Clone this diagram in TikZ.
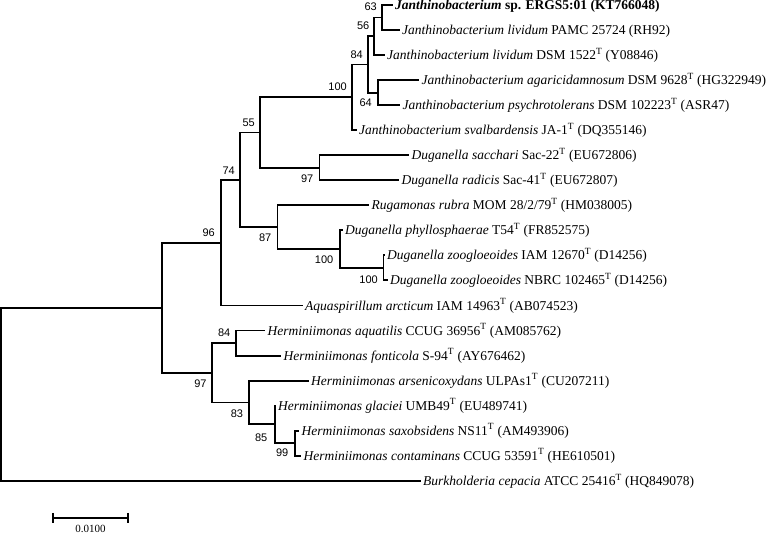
\documentclass[tikz,border=0pt]{standalone}
\usepackage{fontspec}
\setmainfont{Liberation Serif}
\newfontfamily\bsfont{Liberation Sans}
\begin{document}
\begin{tikzpicture}[x=1pt,y=-1pt,
  br/.style={line width=1.9pt},
  leaf/.style={anchor=west,inner xsep=2.5pt,inner ysep=0pt,text height=9pt,text depth=0pt,font=\fontsize{13.5}{15}\selectfont},
  bsa/.style={anchor=south east,inner sep=0pt,font=\bsfont\fontsize{11}{12}\selectfont},
  bsb/.style={anchor=north east,inner sep=0pt,font=\bsfont\fontsize{11}{12}\selectfont},
  scl/.style={inner sep=0pt,font=\fontsize{11}{12}\selectfont}]
\useasboundingbox (0,0) rectangle (778,533);
% internal nodes
\coordinate (n63) at (382,17.5);
\coordinate (n56) at (374,36.3);
\coordinate (n64) at (378,92.6);
\coordinate (n84) at (368,64.5);
\coordinate (n100a) at (352,97.3);
\coordinate (n97a) at (319.5,167.7);
\coordinate (n55) at (260,132.5);
\coordinate (n100c) at (383.5,267.9);
\coordinate (n100b) at (340,249.1);
\coordinate (n87) at (277.5,227.2);
\coordinate (n74) at (240,179.9);
\coordinate (n96) at (221,242.7);
\coordinate (nH84) at (236,343.1);
\coordinate (n99) at (295,443.2);
\coordinate (n85) at (275,424.4);
\coordinate (n83) at (249.3,402.5);
\coordinate (n97b) at (211.7,372.8);
\coordinate (n162) at (162.3,307.8);
\coordinate (root) at (1,394.3);
% leaves
\node[leaf] (l1) at (392.5,5.0) {\textbf{\textit{Janthinobacterium} sp. ERGS5:01 (KT766048)}};
\node[leaf] (l2) at (399.5,30.0) {\textit{Janthinobacterium lividum} PAMC 25724 (RH92)};
\node[leaf] (l3) at (384.5,55.1) {\textit{Janthinobacterium lividum} DSM 1522\textsuperscript{T} (Y08846)};
\node[leaf] (l4) at (419,80.1) {\textit{Janthinobacterium agaricidamnosum} DSM 9628\textsuperscript{T} (HG322949)};
\node[leaf] (l5) at (400,105.2) {\textit{Janthinobacterium psychrotolerans} DSM 102223\textsuperscript{T} (ASR47)};
\node[leaf] (l6) at (356.5,130.2) {\textit{Janthinobacterium svalbardensis} JA-1\textsuperscript{T} (DQ355146)};
\node[leaf] (l7) at (409,155.2) {\textit{Duganella sacchari} Sac-22\textsuperscript{T} (EU672806)};
\node[leaf] (l8) at (399,180.3) {\textit{Duganella radicis} Sac-41\textsuperscript{T} (EU672807)};
\node[leaf] (l9) at (369,205.3) {\textit{Rugamonas rubra} MOM 28/2/79\textsuperscript{T} (HM038005)};
\node[leaf] (l10) at (342.5,230.4) {\textit{Duganella phyllosphaerae} T54\textsuperscript{T} (FR852575)};
\node[leaf] (l11) at (384.5,255.4) {\textit{Duganella zoogloeoides} IAM 12670\textsuperscript{T} (D14256)};
\node[leaf] (l12) at (387.5,280.4) {\textit{Duganella zoogloeoides} NBRC 102465\textsuperscript{T} (D14256)};
\node[leaf] (l13) at (302.5,305.5) {\textit{Aquaspirillum arcticum} IAM 14963\textsuperscript{T} (AB074523)};
\node[leaf] (l14) at (265,330.5) {\textit{Herminiimonas aquatilis} CCUG 36956\textsuperscript{T} (AM085762)};
\node[leaf] (l15) at (281,355.6) {\textit{Herminiimonas fonticola} S-94\textsuperscript{T} (AY676462)};
\node[leaf] (l16) at (308.5,380.6) {\textit{Herminiimonas arsenicoxydans} ULPAs1\textsuperscript{T} (CU207211)};
\node[leaf] (l17) at (275.5,405.6) {\textit{Herminiimonas glaciei} UMB49\textsuperscript{T} (EU489741)};
\node[leaf] (l18) at (299,430.7) {\textit{Herminiimonas saxobsidens} NS11\textsuperscript{T} (AM493906)};
\node[leaf] (l19) at (301,455.7) {\textit{Herminiimonas contaminans} CCUG 53591\textsuperscript{T} (HE610501)};
\node[leaf] (l20) at (420.5,480.8) {\textit{Burkholderia cepacia} ATCC 25416\textsuperscript{T} (HQ849078)};
% branches
\draw[br] (root) |- (n162);
\draw[br] (root) |- (l20.west);
\draw[br] (n162) |- (n96);
\draw[br] (n162) |- (n97b);
\draw[br] (n96) |- (n74);
\draw[br] (n96) |- (l13.west);
\draw[br] (n74) |- (n55);
\draw[br] (n74) |- (n87);
\draw[br] (n55) |- (n100a);
\draw[br] (n55) |- (n97a);
\draw[br] (n100a) |- (n84);
\draw[br] (n100a) |- (l6.west);
\draw[br] (n84) |- (n56);
\draw[br] (n84) |- (n64);
\draw[br] (n56) |- (n63);
\draw[br] (n56) |- (l3.west);
\draw[br] (n63) |- (l1.west);
\draw[br] (n63) |- (l2.west);
\draw[br] (n64) |- (l4.west);
\draw[br] (n64) |- (l5.west);
\draw[br] (n97a) |- (l7.west);
\draw[br] (n97a) |- (l8.west);
\draw[br] (n87) |- (l9.west);
\draw[br] (n87) |- (n100b);
\draw[br] (n100b) |- (l10.west);
\draw[br] (n100b) |- (n100c);
\draw[br] (n100c) |- (l11.west);
\draw[br] (n100c) |- (l12.west);
\draw[br] (n97b) |- (nH84);
\draw[br] (n97b) |- (n83);
\draw[br] (nH84) |- (l14.west);
\draw[br] (nH84) |- (l15.west);
\draw[br] (n83) |- (l16.west);
\draw[br] (n83) |- (n85);
\draw[br] (n85) |- (l17.west);
\draw[br] (n85) |- (n99);
\draw[br] (n99) |- (l18.west);
\draw[br] (n99) |- (l19.west);
% bootstrap values
\node[bsa] (b63) at ([shift={(-5,-7)}]n63) {63};
\node[bsa] (b56) at ([shift={(-4.5,-6)}]n56) {56};
\node[bsa] (b84) at ([shift={(-5,-6)}]n84) {84};
\node[bsa] (b100a) at ([shift={(-5,-6)}]n100a) {100};
\node[bsb] (b64) at ([shift={(-6,6.5)}]n64) {64};
\node[bsa] (b55) at ([shift={(-5,-6)}]n55) {55};
\node[bsb] (b97a) at ([shift={(-6,7)}]n97a) {97};
\node[bsa] (b74) at ([shift={(-5,-5.5)}]n74) {74};
\node[bsa] (b96) at ([shift={(-6,-6)}]n96) {96};
\node[bsb] (b87) at ([shift={(-6,6.5)}]n87) {87};
\node[bsb] (b100b) at ([shift={(-6.5,6.5)}]n100b) {100};
\node[bsb] (b100c) at ([shift={(-5.5,7.5)}]n100c) {100};
\node[bsa] (bH84) at ([shift={(-5.5,-6)}]nH84) {84};
\node[bsb] (b97b) at ([shift={(-5,7)}]n97b) {97};
\node[bsb] (b83) at ([shift={(-6,7.5)}]n83) {83};
\node[bsb] (b85) at ([shift={(-7.5,9.5)}]n85) {85};
\node[bsb] (b99) at ([shift={(-6.5,5.5)}]n99) {99};
% scale bar
\coordinate (sbL) at (52.7,517.7);
\coordinate (sbR) at (128.3,517.7);
\draw[br] (sbL) -- (sbR);
\draw[br] ([yshift=4.8pt]sbL) -- ([yshift=-4.8pt]sbL);
\draw[br] ([yshift=4.8pt]sbR) -- ([yshift=-4.8pt]sbR);
\node[scl] (sblab) at (90.5,528.5) {0.0100};
\end{tikzpicture}
\end{document}
